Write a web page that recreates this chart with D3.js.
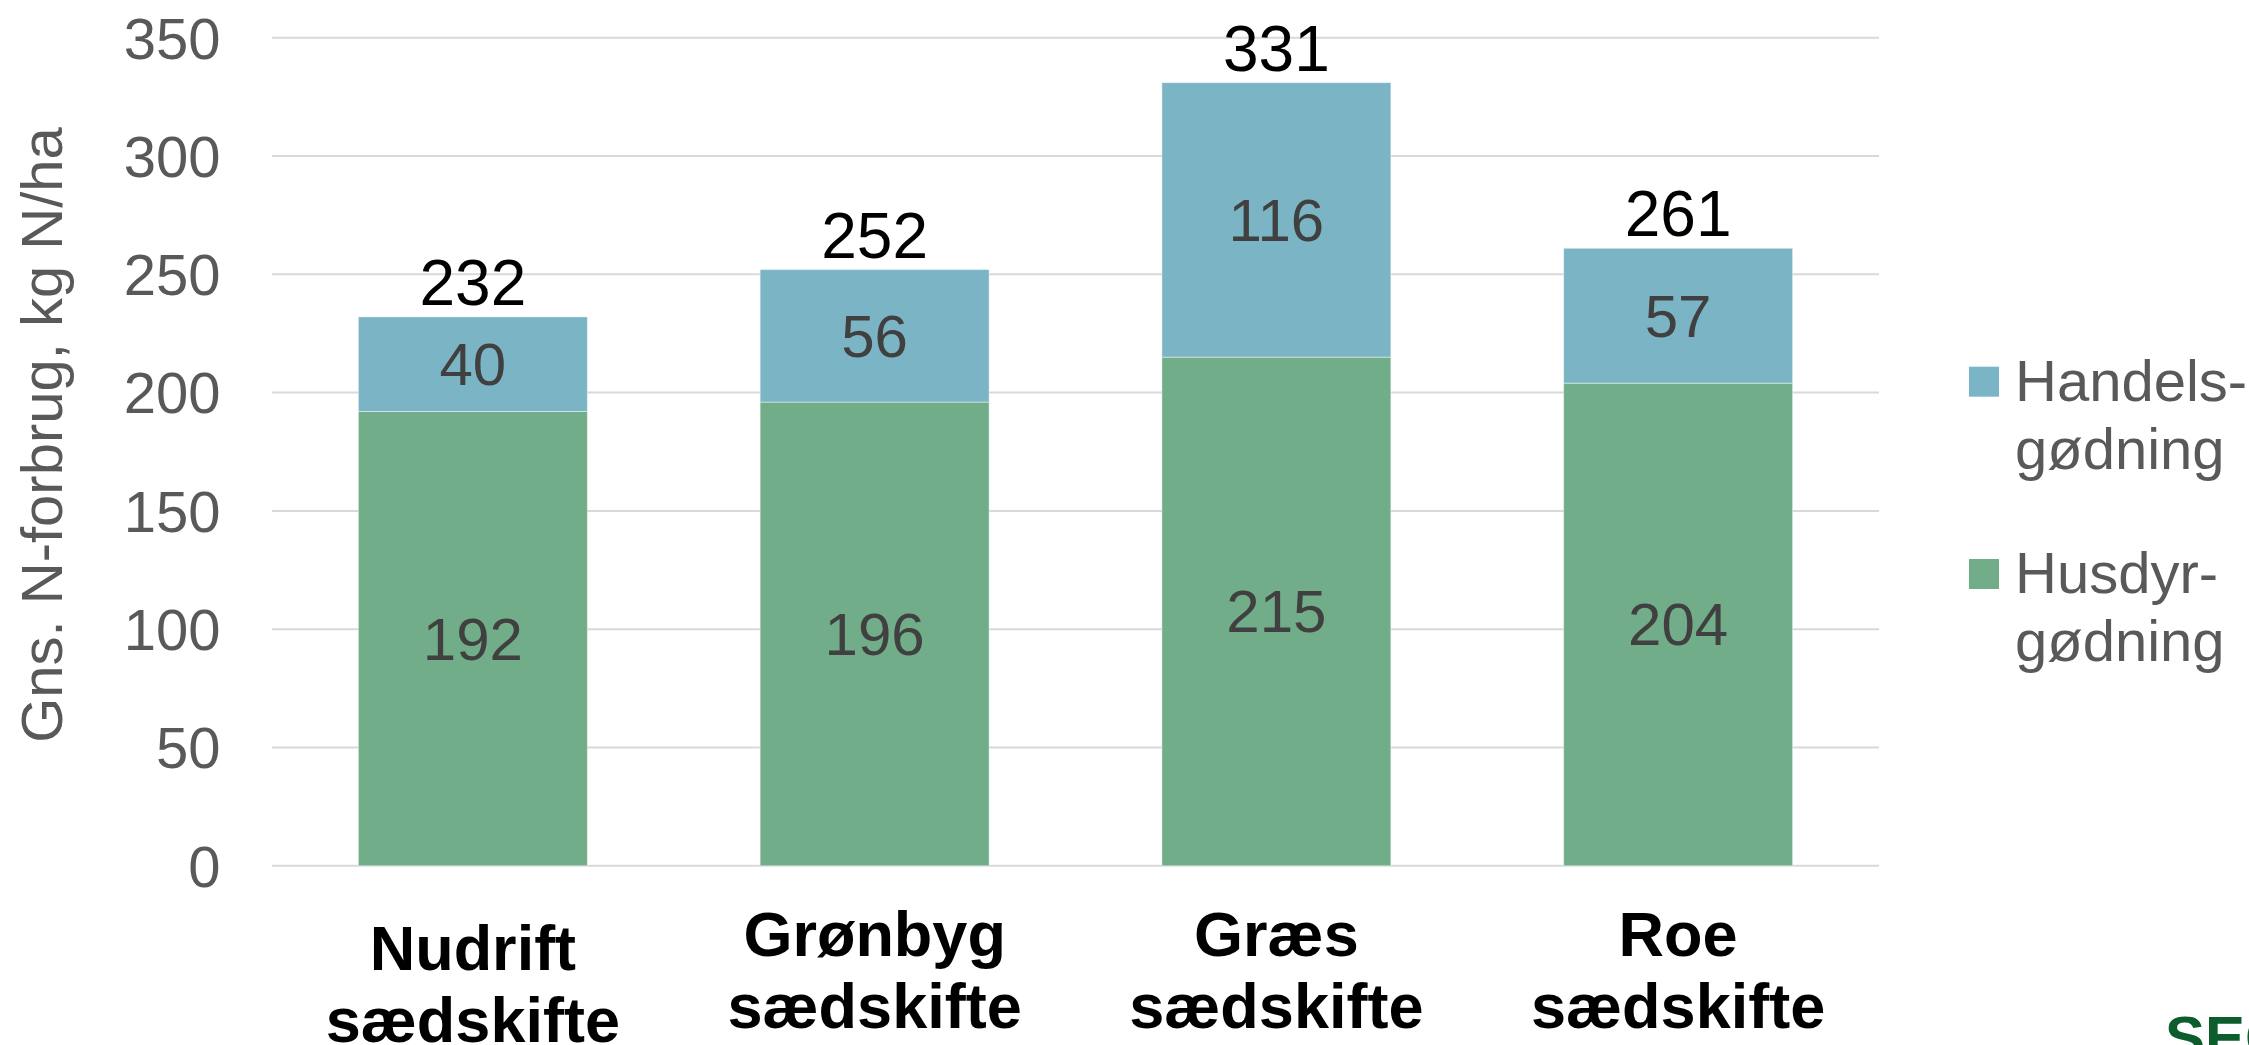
<!DOCTYPE html>
<html>
<head>
<meta charset="utf-8">
<script src="https://cdn.jsdelivr.net/npm/d3@7"></script>
<style>
  html, body { margin: 0; padding: 0; background: #fff; }
  svg { display: block; }
  text { font-family: "Liberation Sans", Arial, sans-serif; }
</style>
</head>
<body>
<svg id="chart" width="2249" height="1045"></svg>
<script>
// Crop rotations (two-line category labels)
const categories = [
  ["Nudrift", "sædskifte"],
  ["Grønbyg", "sædskifte"],
  ["Græs", "sædskifte"],
  ["Roe", "sædskifte"]
];
// Husdyrgødning (manure) and handelsgødning (mineral fertiliser), kg N/ha
const husdyr = [192, 196, 215, 204];
const handels = [40, 56, 116, 57];
const totals = [232, 252, 331, 261];
const yTicks = [0, 50, 100, 150, 200, 250, 300, 350];
const seriesNames = [["Handels-", "gødning"], ["Husdyr-", "gødning"]];
const yTitle = "Gns. N-forbrug, kg N/ha";

const colors = { handels: "#7bb5c5", husdyr: "#72ad89" };

const svg = d3.select("#chart");
const plot = { left: 272, right: 1879, top: 37.7, bottom: 865.8 };

const x = d3.scaleBand()
  .domain(d3.range(categories.length))
  .range([plot.left, plot.right])
  .paddingInner(0.43)
  .paddingOuter(0.215);

const y = d3.scaleLinear()
  .domain([0, 350])
  .range([plot.bottom, plot.top]);

// Gridlines
svg.append("g")
  .selectAll("line")
  .data(yTicks)
  .join("line")
  .attr("x1", plot.left)
  .attr("x2", plot.right)
  .attr("y1", d => y(d))
  .attr("y2", d => y(d))
  .attr("stroke", "#d9d9d9")
  .attr("stroke-width", 2);

// Y axis tick labels
const yAxis = d3.axisLeft(y).tickValues(yTicks).tickSize(0).tickPadding(0);
const yg = svg.append("g")
  .attr("transform", `translate(220.5,0)`)
  .call(yAxis);
yg.select(".domain").remove();
yg.selectAll("text")
  .attr("fill", "#595959")
  .style("font-size", "58px")
  .style("font-family", "'Liberation Sans', Arial, sans-serif")
  .attr("dy", "0.35em");

// Y axis title
svg.append("text")
  .attr("transform", "translate(62,435) rotate(-90)")
  .attr("text-anchor", "middle")
  .attr("fill", "#595959")
  .style("font-size", "58px")
  .text(yTitle);

// Stacked bars
const stackData = categories.map((c, i) => ({ i, husdyr: husdyr[i], handels: handels[i] }));
const stack = d3.stack().keys(["husdyr", "handels"]);
const layers = stack(stackData);

svg.append("g")
  .selectAll("g")
  .data(layers)
  .join("g")
  .attr("fill", d => colors[d.key])
  .selectAll("rect")
  .data(d => d)
  .join("rect")
  .attr("x", d => x(d.data.i))
  .attr("width", x.bandwidth())
  .attr("y", d => y(d[1]))
  .attr("height", d => y(d[0]) - y(d[1]))
  .attr("stroke", "rgba(255,255,255,0.45)")
  .attr("stroke-width", 1);

// Segment value labels
layers.forEach(layer => {
  svg.append("g")
    .selectAll("text")
    .data(layer)
    .join("text")
    .attr("x", d => x(d.data.i) + x.bandwidth() / 2)
    .attr("y", d => y((d[0] + d[1]) / 2))
    .attr("dy", "0.35em")
    .attr("text-anchor", "middle")
    .attr("fill", "#404040")
    .style("font-size", "60px")
    .text(d => d.data[layer.key]);
});

// Total labels above bars
svg.append("g")
  .selectAll("text")
  .data(totals)
  .join("text")
  .attr("x", (d, i) => x(i) + x.bandwidth() / 2)
  .attr("y", d => y(d) - 12)
  .attr("text-anchor", "middle")
  .attr("fill", "#000")
  .style("font-size", "64px")
  .text(d => d);

// Category labels (two lines, bold)
const catG = svg.append("g")
  .selectAll("text")
  .data(categories)
  .join("text")
  .attr("text-anchor", "middle")
  .attr("fill", "#000")
  .style("font-size", "63px")
  .style("font-weight", "bold")
  .attr("transform", (d, i) => `translate(${x(i) + x.bandwidth() / 2},${i === 0 ? 970 : 956})`);
catG.selectAll("tspan")
  .data(d => d)
  .join("tspan")
  .attr("x", 0)
  .attr("y", (d, j) => j * 72)
  .text(d => d);

// Legend
const legend = svg.append("g")
  .selectAll("g")
  .data(seriesNames)
  .join("g")
  .attr("transform", (d, i) => `translate(1969,${366.7 + i * 192.3})`);
legend.append("rect")
  .attr("width", 30)
  .attr("height", 30)
  .attr("fill", (d, i) => i === 0 ? colors.handels : colors.husdyr);
legend.append("text")
  .attr("fill", "#595959")
  .style("font-size", "58px")
  .selectAll("tspan")
  .data(d => d)
  .join("tspan")
  .attr("x", 46)
  .attr("y", (d, j) => 34 + j * 68)
  .text(d => d);

// Logo wordmark at the lower right corner
svg.append("text")
  .attr("x", 2165)
  .attr("y", 1058)
  .attr("fill", "#0d5c2c")
  .style("font-size", "60px")
  .style("font-weight", "bold")
  .text("SEGES");
</script>
</body>
</html>
